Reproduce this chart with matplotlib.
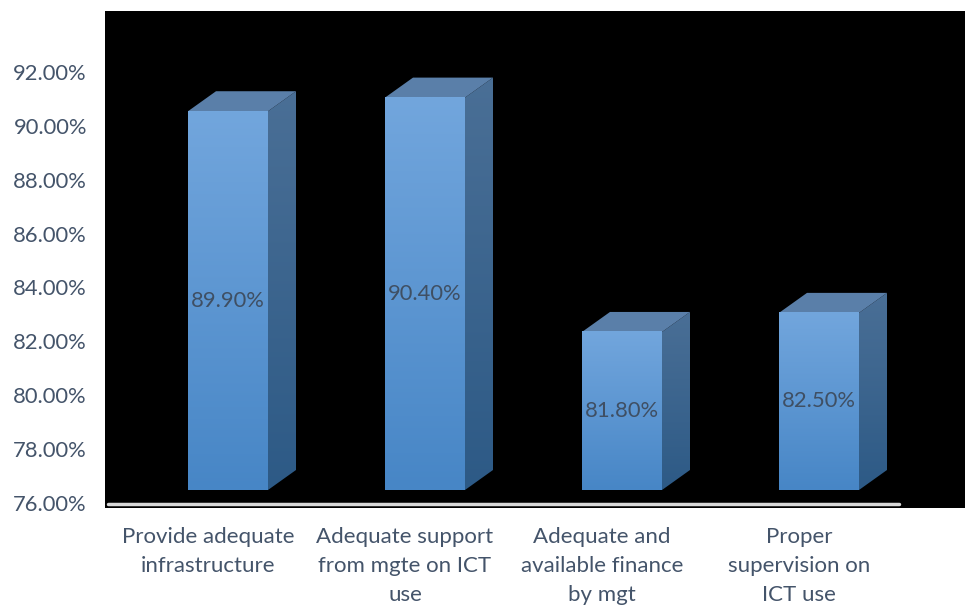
import numpy as np
import matplotlib
matplotlib.use("Agg")
import matplotlib.pyplot as plt
from matplotlib.patches import Polygon
from matplotlib.colors import LinearSegmentedColormap

categories = ["Provide adequate\ninfrastructure",
              "Adequate support\nfrom mgte on ICT\nuse",
              "Adequate and\navailable finance\nby mgt",
              "Proper\nsupervision on\nICT use"]
values = [89.90, 90.40, 81.80, 82.50]
value_labels = ["89.90%", "90.40%", "81.80%", "82.50%"]
yticks = [76, 78, 80, 82, 84, 86, 88, 90, 92]

W, H = 965, 606
fig = plt.figure(figsize=(W / 100, H / 100), dpi=100)
fig.patch.set_facecolor("white")

# axes box in pixels
left, right, top, bottom = 105, 965, 11, 508
rect = [left / W, 1 - bottom / H, (right - left) / W, (bottom - top) / H]

txt_color = "#44546a"
font = "Lato"

# axis for ticks / labels
ax = fig.add_axes(rect)
ax.set_facecolor("black")
px_per_unit_t = 26.94
ax.set_ylim(76 - (bottom - 503) / px_per_unit_t, 76 + (503 - top) / px_per_unit_t)
ax.set_xlim(0, 1)
ax.set_yticks(yticks)
ax.set_yticklabels([f"{v:.2f}%" for v in yticks], fontsize=15.8, color=txt_color, family=font)
ax.tick_params(axis="y", length=0, pad=13)
ax.set_xticks([])
for s in ax.spines.values():
    s.set_visible(False)

# axis for bars (front-face scale)
ax2 = fig.add_axes(rect)
ax2.patch.set_visible(False)
px_per_unit = 27.25
base_pix = 490
cat_w = 197.0
ax2.axis("off")

front_w = 80 / cat_w
off_front = 18 / cat_w
dx = 28 / cat_w
dy = 20 / px_per_unit

front_cmap = LinearSegmentedColormap.from_list("f", ["#4786c6", "#72a6dd"])
side_cmap = LinearSegmentedColormap.from_list("s", ["#2d5a86", "#4a6f96"])
grad = np.linspace(0, 1, 256).reshape(-1, 1)

for i, v in enumerate(values):
    x0 = i + off_front - front_w / 2
    x1 = x0 + front_w
    y0 = 76
    side = Polygon([[x1, y0], [x1 + dx, y0 + dy], [x1 + dx, v + dy], [x1, v]],
                   closed=True, facecolor="none", edgecolor="none")
    ax2.add_patch(side)
    im = ax2.imshow(grad, cmap=side_cmap, origin="lower", aspect="auto",
                    extent=[x1, x1 + dx, y0, v + dy], zorder=2)
    im.set_clip_path(side)
    topf = Polygon([[x0, v], [x1, v], [x1 + dx, v + dy], [x0 + dx, v + dy]],
                   closed=True, facecolor="#5a7fa9", edgecolor="none", zorder=3)
    ax2.add_patch(topf)
    ax2.imshow(grad, cmap=front_cmap, origin="lower", aspect="auto",
               extent=[x0, x1, y0, v], zorder=3)
    ax2.text((x0 + x1) / 2, (y0 + v) / 2, value_labels[i], ha="center", va="center",
             fontsize=15.8, color="#3f4f63", family=font, zorder=5)

ax2.set_xlim((left - 210) / cat_w, (right - 210) / cat_w)
ax2.set_ylim(76 - (bottom - base_pix) / px_per_unit, 76 + (base_pix - top) / px_per_unit)

# floor line
fy = 76 - (504 - base_pix) / px_per_unit
ax2.plot([(108 - 210) / cat_w, (899 - 210) / cat_w], [fy, fy], color="#d9d9d9",
         lw=2.5, solid_capstyle="round", zorder=4)

# category labels
for i, c in enumerate(categories):
    xpix = 210 + cat_w * i - 2
    fig.text(xpix / W, 1 - 527 / H, c, ha="center", va="top", fontsize=16,
             color=txt_color, family=font, linespacing=1.56)

fig.savefig("out.png", dpi=100, facecolor="white")
